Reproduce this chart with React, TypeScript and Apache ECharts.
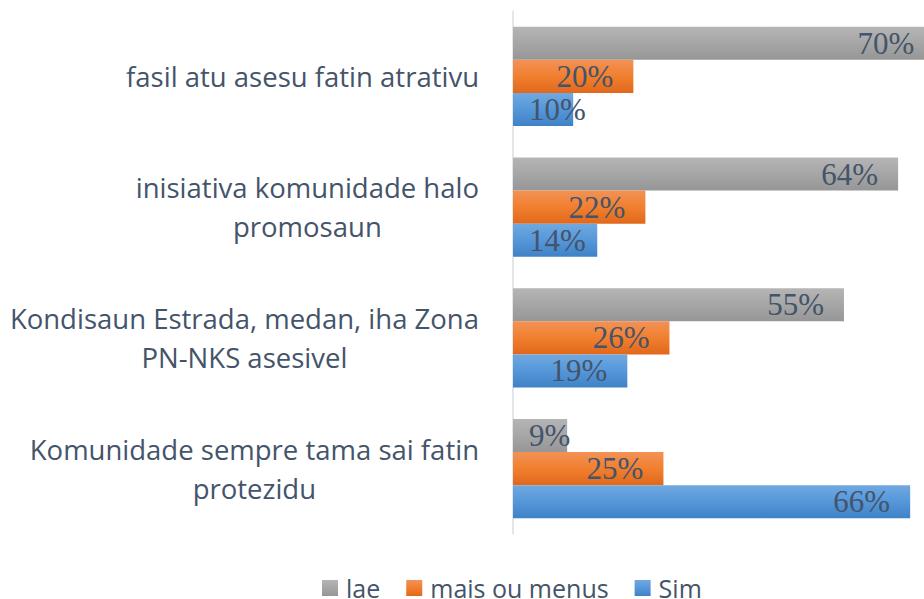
import React, { useEffect, useRef } from "react";
import * as echarts from "echarts";

const categories = [
  "fasil atu asesu fatin atrativu",
  "inisiativa komunidade halo\npromosaun",
  "Kondisaun Estrada, medan, iha Zona\nPN-NKS asesivel",
  "Komunidade sempre tama sai fatin\nprotezidu",
];
const seriesNames = ["lae", "mais ou menus", "Sim"];
const laeValues = [70, 64, 55, 9];
const maisValues = [20, 22, 26, 25];
const simValues = [10, 14, 19, 66];

const gradients = [
  ["#b5b5b5", "#a6a6a6", "#969696"],
  ["#f29257", "#f17f2e", "#e1681b"],
  ["#70a9e1", "#5597d9", "#3f82c6"],
];

const TEXT_COLOR = "#44546a";

function makeData(values: number[]) {
  return values.map((v) =>
    v < 15
      ? { value: v, label: { position: "insideLeft", distance: 16 } }
      : { value: v }
  );
}

export default function App() {
  const ref = useRef<HTMLDivElement>(null);
  useEffect(() => {
    if (!ref.current) return;
    const chart = echarts.init(ref.current, undefined, { renderer: "svg" });
    const allValues = [laeValues, maisValues, simValues];
    chart.setOption({
      animation: false,
      backgroundColor: "#ffffff",
      legend: {
        data: seriesNames,
        left: 322,
        top: 575,
        padding: 0,
        itemWidth: 16,
        itemHeight: 16,
        itemGap: 26,
        icon: "rect",
        textStyle: {
          fontFamily: "Open Sans",
          fontSize: 25,
          lineHeight: 26,
          color: TEXT_COLOR,
          padding: [0, 0, 0, 3],
        },
      },
      grid: { left: 513, top: 11, right: 0, height: 523 },
      xAxis: {
        type: "value",
        min: 0,
        max: 68.3,
        show: false,
      },
      yAxis: {
        type: "category",
        inverse: true,
        data: categories,
        axisTick: { show: false },
        axisLine: { show: true, lineStyle: { color: "#dadee4", width: 1.5 } },
        axisLabel: {
          margin: 34,
          formatter: (v: string) =>
            v
              .split("\n")
              .map((l) => `{c|${l}}`)
              .join("\n"),
          rich: {
            c: {
              align: "center",
              fontFamily: "Open Sans",
              fontSize: 27.5,
              lineHeight: 39,
              color: TEXT_COLOR,
            },
          },
        },
      },
      series: seriesNames.map((name, i) => ({
        name,
        type: "bar",
        clip: false,
        barGap: "0%",
        barCategoryGap: "24.2%",
        data: makeData(allValues[i]),
        itemStyle: {
          color: new echarts.graphic.LinearGradient(0, 0, 0, 1, [
            { offset: 0, color: gradients[i][0] },
            { offset: 0.5, color: gradients[i][1] },
            { offset: 1, color: gradients[i][2] },
          ]),
        },
        label: {
          show: true,
          position: "insideRight",
          distance: 20,
          formatter: "{c}%",
          fontFamily: "Liberation Serif",
          fontSize: 31,
          color: TEXT_COLOR,
        },
      })),
    });
    return () => chart.dispose();
  }, []);
  return (
    <div
      ref={ref}
      style={{ position: "absolute", left: 0, top: 0, width: 924, height: 599 }}
    />
  );
}
